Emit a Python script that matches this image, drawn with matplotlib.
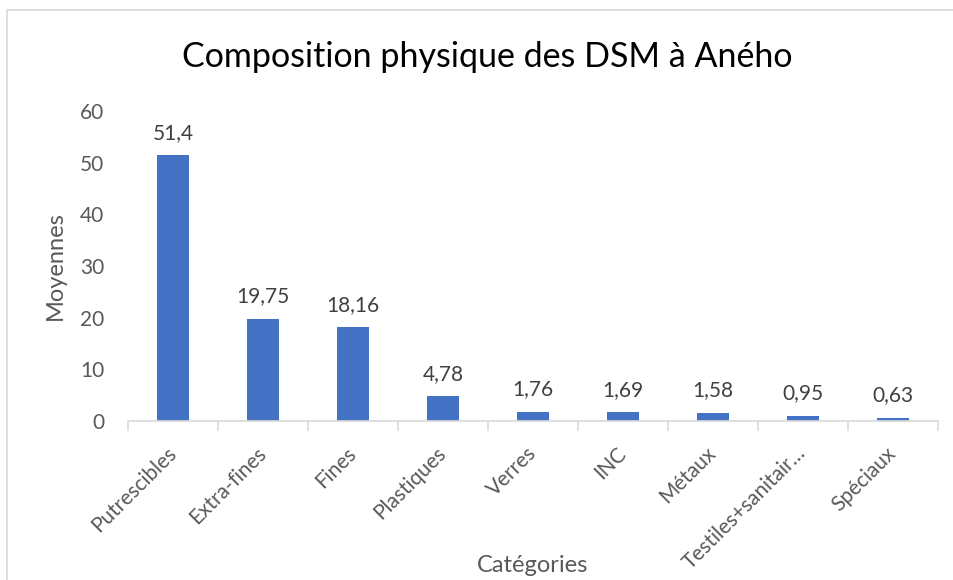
import matplotlib.pyplot as plt
from matplotlib.patches import Rectangle

# data
categories = ["Putrescibles", "Extra-fines", "Fines", "Plastiques", "Verres",
              "INC", "Métaux", "Testiles+sanitair…", "Spéciaux"]
moyennes = [51.4, 19.75, 18.16, 4.78, 1.76, 1.69, 1.58, 0.95, 0.63]
value_labels = ["51,4", "19,75", "18,16", "4,78", "1,76", "1,69", "1,58", "0,95", "0,63"]
y_ticks = [0, 10, 20, 30, 40, 50, 60]

plt.rcParams['font.family'] = ['Lato', 'DejaVu Sans']

fig = plt.figure(figsize=(9.54, 5.8), dpi=100)
# chart border (Excel style)
fig.patches.append(Rectangle((7 / 954, -0.1), 1.0, (580 - 10) / 580 + 0.1,
                             transform=fig.transFigure, fill=False,
                             edgecolor="#d9d9d9", linewidth=1.2))

ax = fig.add_axes([128 / 954, (580 - 421) / 580, (938 - 128) / 954, (421 - 111) / 580])

x = list(range(len(categories)))
ax.bar(x, moyennes, width=0.35, color="#4472c4")

for xi, v, lab in zip(x, moyennes, value_labels):
    ax.annotate(lab, (xi, v), xytext=(0, 9), textcoords="offset points",
                ha="center", va="bottom", fontsize=15, color="#404040")

ax.set_xlim(-0.5, len(categories) - 0.5)
ax.set_ylim(0, 60)
ax.set_yticks(y_ticks)
ax.tick_params(axis="y", length=0, labelsize=15, labelcolor="#595959", pad=17)

# category boundary tick marks
ax.set_xticks([i - 0.5 for i in range(len(categories) + 1)], minor=False)
ax.set_xticklabels([])
ax.set_xticks(x, minor=True)
ax.set_xticklabels(categories, minor=True, rotation=45, ha="right", va="center",
                   rotation_mode="anchor", fontsize=15, color="#595959")
ax.tick_params(axis="x", which="major", length=7, color="#d9d9d9", width=1.2)
ax.tick_params(axis="x", which="minor", length=0, pad=21)

for side in ["top", "right", "left"]:
    ax.spines[side].set_visible(False)
ax.spines["bottom"].set_color("#d9d9d9")
ax.spines["bottom"].set_linewidth(1.2)

ax.set_ylabel("Moyennes", fontsize=17, color="#595959", labelpad=10)
fig.text(533 / 954, 1 - 566 / 580, "Catégories", fontsize=17, color="#595959",
         ha="center", va="center")
fig.text(487 / 954, 1 - 57 / 580, "Composition physique des DSM à Aného",
         fontsize=24.5, color="#000000", ha="center", va="center")

fig.savefig("out.png", dpi=100)
